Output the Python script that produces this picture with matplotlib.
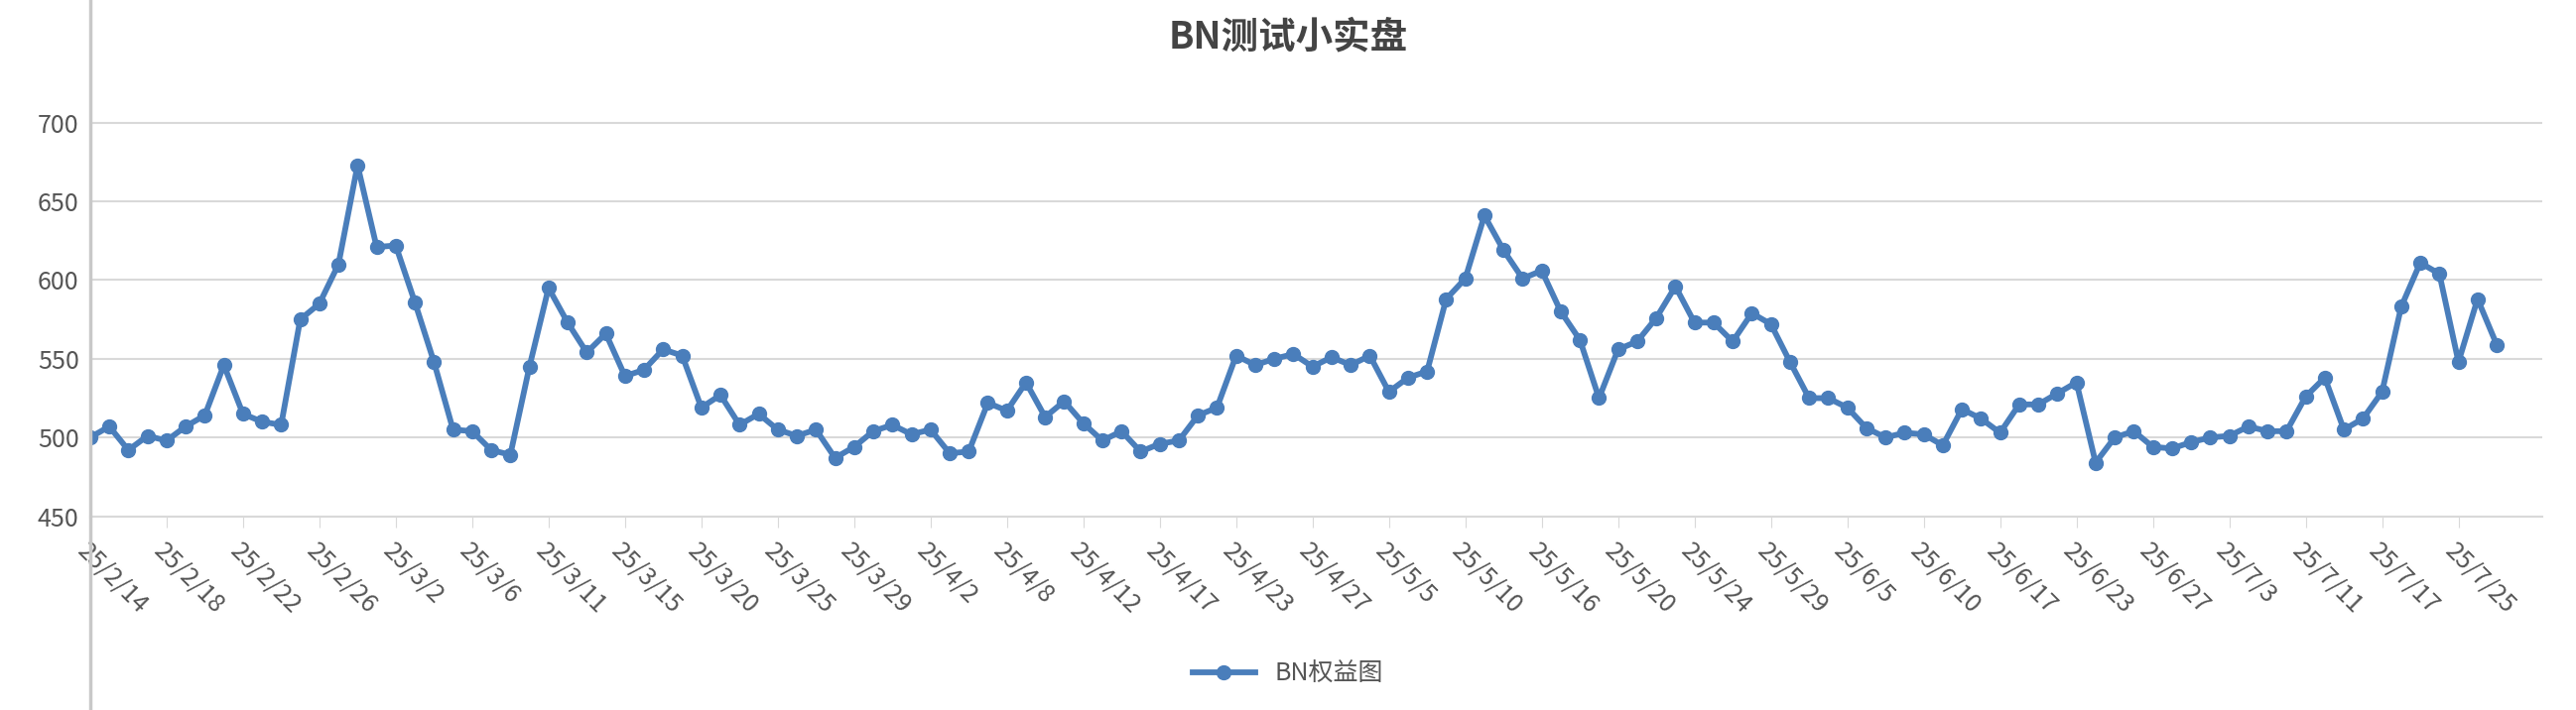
import matplotlib
matplotlib.use("Agg")
import matplotlib.pyplot as plt
from matplotlib.lines import Line2D

plt.rcParams['font.family'] = ['Noto Sans CJK SC', 'DejaVu Sans']

values = [500,507,492,501,498,507,514,546,515,510,508,575,585,610,673,621,622,586,548,505,
          504,492,489,545,595,573,554,566,539,543,556,552,519,527,508,515,505,501,505,487,
          494,504,508,502,505,490,491,522,517,535,513,523,509,498,504,491,496,498,514,519,
          552,546,550,553,545,551,546,552,529,538,542,588,601,641,619,601,606,580,562,525,
          556,561,576,596,573,573,561,579,572,548,525,525,519,506,500,503,502,495,518,512,
          503,521,521,528,535,484,500,504,494,493,497,500,501,507,504,504,526,538,505,512,
          529,583,611,604,548,588,559]
tick_labels = ["25/2/14","25/2/18","25/2/22","25/2/26","25/3/2","25/3/6","25/3/11","25/3/15",
               "25/3/20","25/3/25","25/3/29","25/4/2","25/4/8","25/4/12","25/4/17","25/4/23",
               "25/4/27","25/5/5","25/5/10","25/5/16","25/5/20","25/5/24","25/5/29","25/6/5",
               "25/6/10","25/6/17","25/6/23","25/6/27","25/7/3","25/7/11","25/7/17","25/7/25"]
tick_step = 4
color = '#4a7ebb'

fig = plt.figure(figsize=(25.96, 7.16), dpi=100)
ax = fig.add_axes([0.035, 0.273, 0.952, 0.665])
x = list(range(len(values)))
ax.plot(x, values, color=color, lw=4.2, marker='o', ms=10, zorder=3)
ax.set_xlim(0, len(values) - 1 + 2.4)
ax.set_ylim(450, 750)
ax.set_yticks([450, 500, 550, 600, 650, 700])
ax.grid(axis='y', color='#d9d9d9', lw=1.5)
ax.set_axisbelow(True)
for s in ['top', 'right', 'left']:
    ax.spines[s].set_visible(False)
ax.spines['bottom'].set_color('#d9d9d9')
ax.spines['bottom'].set_linewidth(1.5)
ax.set_xticks([i * tick_step for i in range(len(tick_labels))])
ax.set_xticklabels(tick_labels, rotation=-45, ha='left', rotation_mode='anchor')
ax.tick_params(axis='both', labelsize=18, colors='#555555', length=0, pad=8)
ax.tick_params(axis='x', length=8, color='#d9d9d9')
fig.add_artist(Line2D([0.035, 0.035], [0, 1], color='#c8c8c8', lw=2.5))
fig.suptitle('BN测试小实盘', x=0.5, y=0.975, fontsize=27, fontweight='bold', color='#444444')
fig.legend(handles=[Line2D([], [], color=color, lw=4.2, marker='o', ms=10)], labels=['BN权益图'],
           loc='center', bbox_to_anchor=(0.5, 0.05), frameon=False, fontsize=18,
           handlelength=2.5, labelcolor='#555555')
fig.savefig('out.png', dpi=100)
